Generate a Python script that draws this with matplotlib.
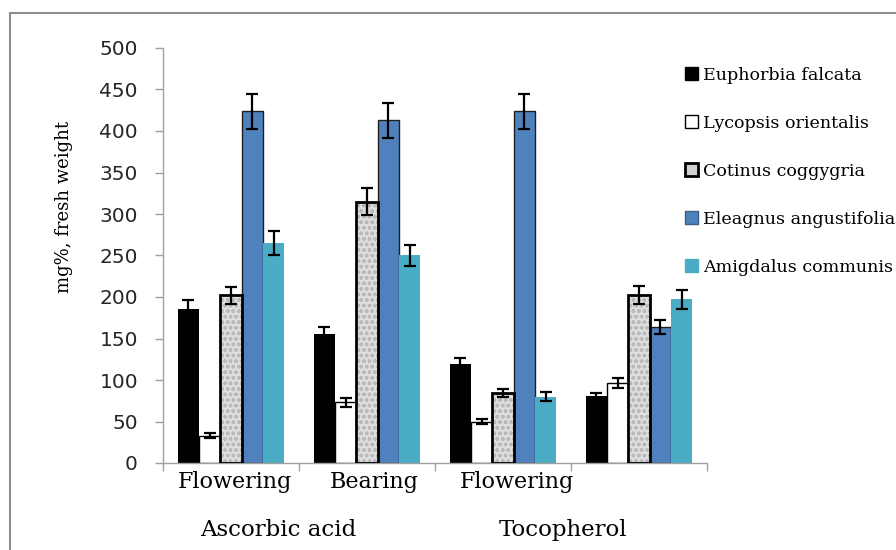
import numpy as np
import matplotlib
matplotlib.use("Agg")
import matplotlib.pyplot as plt
from matplotlib.patches import Patch, Rectangle

# ---- data ----
stages = ["Flowering", "Bearing", "Flowering", ""]
compounds = ["Ascorbic acid", "Tocopherol"]
species = ["Euphorbia falcata", "Lycopsis orientalis", "Cotinus coggygria",
           "Eleagnus angustifolia", "Amigdalus communis"]

euphorbia = [186, 156, 119, 81]
euphorbia_err = [10, 8, 7, 3]
lycopsis = [33, 73, 50, 96]
lycopsis_err = [3, 5, 3, 6]
cotinus = [202, 315, 84, 202]
cotinus_err = [10, 16, 5, 11]
eleagnus = [424, 413, 424, 164]
eleagnus_err = [21, 21, 21, 8]
amigdalus = [265, 250, 80, 197]
amigdalus_err = [15, 13, 5, 12]

values = [euphorbia, lycopsis, cotinus, eleagnus, amigdalus]
errors = [euphorbia_err, lycopsis_err, cotinus_err, eleagnus_err, amigdalus_err]

SERIF = ["DejaVu Serif"]
plt.rcParams["hatch.linewidth"] = 1.0

fig = plt.figure(figsize=(8.96, 5.5), dpi=100)
ax = fig.add_axes([163 / 896, 87 / 550, 544 / 896, 415 / 550])

x = np.arange(len(stages))
w = 0.157
ekw = dict(ecolor="black", elinewidth=1.6, capsize=4, capthick=1.6)

for i, (vals, errs) in enumerate(zip(values, errors)):
    pos = x + (i - 2) * w
    if i == 0:
        ax.bar(pos, vals, w, color="black", yerr=errs, error_kw=ekw, zorder=2)
    elif i == 1:
        ax.bar(pos, vals, w, facecolor="white", edgecolor="black", lw=1.0,
               yerr=errs, error_kw=ekw, zorder=2)
    elif i == 2:
        # mottled grey fill, then a thick black outline on top
        ax.bar(pos, vals, w, facecolor="#dedede", edgecolor="#b9b9b9",
               hatch="ooo", lw=0, zorder=2)
        ax.bar(pos, vals, w, fill=False, edgecolor="black", lw=2.0,
               yerr=errs, error_kw=ekw, zorder=3)
    elif i == 3:
        ax.bar(pos, vals, w, facecolor="#4f81bd", edgecolor="#1f1f1f", lw=1.0,
               yerr=errs, error_kw=ekw, zorder=2)
    else:
        ax.bar(pos, vals, w, facecolor="#4bacc6", lw=0,
               yerr=errs, error_kw=ekw, zorder=2)

ax.set_xlim(-0.5, 3.5)
ax.set_ylim(0, 500)
ax.set_yticks(np.arange(0, 501, 50))
ax.tick_params(axis="y", length=6, width=1, color="#a0a0a0", pad=12,
               labelsize=14.5, labelcolor="#262626")

# category boundaries as ticks, labels placed as text
ax.set_xticks(np.arange(-0.5, 3.6, 1))
ax.set_xticklabels([])
ax.tick_params(axis="x", length=6, width=1, color="#a0a0a0")

label_x = [0.03, 1.05, 2.1, 3.0]
for lx, s in zip(label_x, stages):
    ax.text(lx, -10, s, ha="center", va="top", fontsize=16, family=SERIF)
comp_x = [0.35, 2.44]
for cx, s in zip(comp_x, compounds):
    ax.text(cx, -68, s, ha="center", va="top", fontsize=16.5, family=SERIF)

for s in ["top", "right"]:
    ax.spines[s].set_visible(False)
for s in ["left", "bottom"]:
    ax.spines[s].set_color("#a0a0a0")
    ax.spines[s].set_linewidth(1)

ax.set_ylabel("mg%, fresh weight", fontsize=13, family=SERIF)
ax.yaxis.set_label_coords(-0.165, 0.617)

handles = [
    Patch(facecolor="black", edgecolor="black"),
    Patch(facecolor="white", edgecolor="black", lw=1),
    Patch(facecolor="#d0d0d0", edgecolor="black", lw=2),
    Patch(facecolor="#4f81bd", edgecolor="#3a5f8c", lw=1),
    Patch(facecolor="#4bacc6", edgecolor="#4bacc6"),
]
fig.legend(handles, species, loc="upper left",
           bbox_to_anchor=(678 / 896, 1 - 60 / 550), frameon=False,
           prop={"family": SERIF, "size": 12.6}, handlelength=0.75,
           handleheight=0.75, handletextpad=0.3, labelspacing=1.77,
           borderaxespad=0)

# outer frame (cut off at right and bottom, as in the reference)
fig.patches.append(Rectangle((10 / 896, -0.2), 1.2, 1.2 - 13 / 550,
                             transform=fig.transFigure, fill=False,
                             edgecolor="#8c8c8c", lw=1.5))

fig.savefig("out.png", dpi=100)
